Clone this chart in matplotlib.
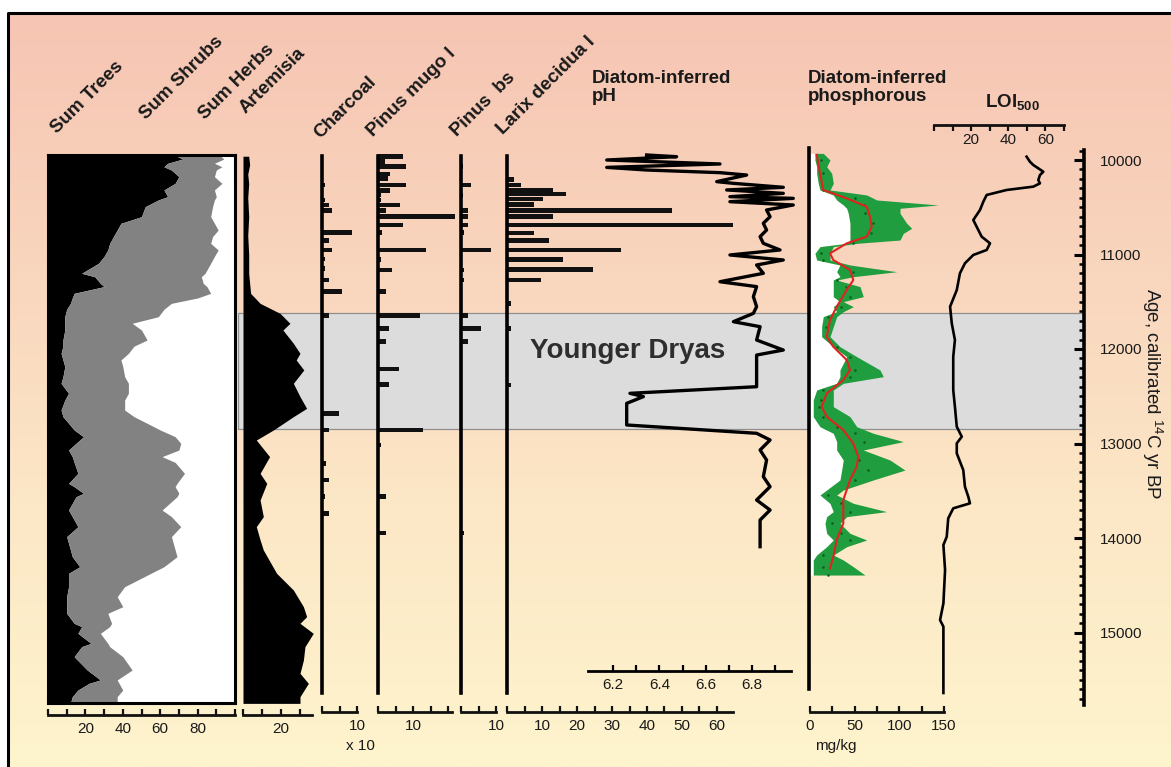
import numpy as np
import matplotlib
matplotlib.use("Agg")
import matplotlib.pyplot as plt
from matplotlib.colors import LinearSegmentedColormap

plt.rcParams['font.family'] = ['Liberation Sans', 'DejaVu Sans']
plt.rcParams['mathtext.fontset'] = 'custom'
plt.rcParams['mathtext.rm'] = 'Liberation Sans'
plt.rcParams['mathtext.it'] = 'Liberation Sans:italic'
plt.rcParams['mathtext.bf'] = 'Liberation Sans:bold'

# ---------------- data (age in cal yr BP) ----------------
sum_age = [9950, 9990, 10035, 10071, 10106, 10176, 10247, 10317, 10388, 10423, 10494, 10600, 10670, 10741, 10811,
           10882, 10952, 11020, 11093, 11199, 11235, 11305, 11340, 11411, 11460, 11517, 11580, 11658, 11728, 11799,
           11905, 11970, 12046, 12116, 12187, 12293, 12363, 12469, 12540, 12646, 12716, 12786, 12857, 12928, 12998,
           13069, 13139, 13200, 13316, 13422, 13457, 13527, 13563, 13704, 13774, 13880, 13986, 14127, 14198, 14304,
           14374, 14515, 14621, 14727, 14797, 14903, 14938, 15009, 15115, 15150, 15256, 15397, 15502, 15538, 15609,
           15679, 15750]
sum_trees = [68, 72, 64, 62, 66, 70, 68, 62, 64, 59, 52, 50, 39, 37, 35, 33, 32, 30, 27, 18, 25, 28, 30, 14, 13,
             12, 10, 9, 9, 9, 8, 8, 7, 8, 9, 8, 7, 11, 9, 7, 8, 11, 14, 19, 15, 11, 13, 14, 16, 11, 14, 19, 15, 11,
             13, 16, 10, 12, 13, 17, 11, 11, 10, 10, 10, 14, 18, 16, 23, 18, 14, 21, 28, 22, 16, 13, 12]
sum_trees_shrubs = [92, 94, 89, 93, 90, 89, 93, 89, 90, 89, 88, 87, 89, 91, 88, 87, 91, 89, 87, 84, 82, 83, 85, 87,
                    80, 66, 62, 59, 45, 50, 53, 46, 43, 39, 40, 41, 43, 43, 41, 41, 46, 53, 60, 68, 71, 70, 61, 68,
                    73, 69, 68, 70, 69, 61, 66, 71, 66, 68, 69, 62, 55, 41, 37, 40, 32, 34, 33, 28, 32, 33, 40, 45,
                    37, 38, 40, 37, 37]

art_age = [9960, 10050, 10150, 10250, 10400, 10600, 10800, 11000, 11200, 11305, 11411, 11517, 11623, 11728, 11799,
           11940, 12046, 12116, 12222, 12363, 12504, 12628, 12716, 12857, 12963, 13139, 13316, 13422, 13598, 13774,
           13880, 14021, 14127, 14374, 14550, 14727, 14832, 14903, 15009, 15150, 15291, 15432, 15538, 15679, 15750]
art_val = [3, 3.5, 2.5, 3, 2.5, 3, 2.5, 3, 3, 3.5, 4, 9, 19.5, 24.7, 21, 26.5, 30, 28, 32, 26.5, 30, 33.5, 26.5,
           16, 7, 14, 9, 12.5, 9, 10.7, 7, 9, 10.7, 17.7, 26.5, 31.8, 33.5, 30, 37, 32.6, 31.8, 30, 34.4, 30, 30]

char_age = [10265, 10423, 10476, 10536, 10765, 10854, 10952, 11048, 11146, 11270, 11393, 11647, 12681, 12857,
            13210, 13386, 13563, 13740]
char_val = [0.9, 0.9, 2, 2.9, 8.6, 2, 2.9, 0.9, 0.9, 2, 5.7, 2, 4.9, 2, 1.1, 2, 0.9, 2]

pmugo_age = [9965, 10018, 10071, 10148, 10194, 10265, 10325, 10370, 10423, 10476, 10536, 10600, 10688, 10765,
             10952, 11051, 11164, 11393, 11647, 11781, 11923, 12212, 12374, 12857, 13016, 13563, 13947]
pmugo_val = [7.1, 2, 8, 3.4, 2.9, 8, 3.4, 0.9, 0.9, 6.3, 2.3, 22, 7.1, 1.1, 13.7, 0.9, 4, 2.3, 12, 3.1, 2.3, 6,
             3.1, 12.9, 0.9, 2.3, 2.3]

pbs_age = [10071, 10265, 10370, 10536, 10600, 10688, 10765, 10952, 11164, 11270, 11647, 11781, 11923, 13947]
pbs_val = [0.6, 2.9, 0.6, 2, 2, 2, 0.9, 8.6, 0.9, 0.9, 2, 5.7, 2, 0.9]

larix_age = [10204, 10265, 10317, 10360, 10413, 10469, 10533, 10600, 10688, 10772, 10853, 10953, 11052, 11157,
             11270, 11517, 11781, 12381]
larix_val = [2, 4, 13.1, 16.9, 10.3, 7.7, 47.1, 13.1, 64.6, 7.7, 12, 32.6, 16, 24.6, 9.7, 1.1, 1.1, 1.1]

ph_age = [9947, 9965, 10000, 10042, 10078, 10106, 10134, 10159, 10229, 10247, 10289, 10317, 10353, 10388, 10406,
          10441, 10476, 10529, 10600, 10670, 10741, 10811, 10882, 10952, 11005, 11058, 11111, 11199, 11288, 11340,
          11446, 11552, 11623, 11711, 11764, 11905, 12011, 12064, 12187, 12399, 12469, 12504, 12575, 12804, 12892,
          12963, 13069, 13175, 13351, 13457, 13598, 13704, 13810, 13916, 14092]
ph_val = [6.345, 6.474, 6.173, 6.661, 6.173, 6.345, 6.661, 6.776, 6.647, 6.719, 6.934, 6.69, 6.934, 6.704, 6.977,
          6.704, 6.977, 6.862, 6.877, 6.848, 6.862, 6.834, 6.848, 6.92, 6.704, 6.934, 6.819, 6.848, 6.661, 6.819,
          6.805, 6.819, 6.805, 6.719, 6.834, 6.819, 6.934, 6.819, 6.819, 6.819, 6.273, 6.331, 6.259, 6.259, 6.819,
          6.877, 6.834, 6.862, 6.848, 6.877, 6.819, 6.877, 6.834, 6.834, 6.834]

p_age = [9930, 10000, 10071, 10141, 10247, 10317, 10370, 10423, 10476, 10511, 10564, 10670, 10723, 10776, 10847,
         10882, 10917, 10988, 11058, 11111, 11182, 11235, 11270, 11340, 11446, 11499, 11552, 11605, 11658, 11764,
         11870, 11976, 12081, 12222, 12293, 12363, 12434, 12540, 12610, 12716, 12822, 12892, 12980, 13069, 13175,
         13281, 13386, 13492, 13545, 13633, 13721, 13774, 13845, 13951, 14021, 14092, 14180, 14233, 14304, 14392]
p_min = [5.6, 5.6, 7.5, 7.5, 9.3, 11.2, 26.1, 29.9, 37.3, 41.1, 42.9, 44.8, 44.8, 44.8, 44.8, 41.1, 11.2, 5.6, 7.5,
         33.6, 29.9, 33.6, 26.1, 26.1, 26.1, 33.6, 26.1, 29.9, 14.9, 13.1, 13.1, 26.1, 41.1, 33.6, 33.6, 29.9, 7.5,
         3.7, 3.7, 3.7, 11.2, 26.1, 29.9, 29.9, 37.3, 35.5, 33.6, 18.7, 11.2, 22.4, 26.1, 18.7, 16.8, 18.7, 26.1,
         18.7, 7.5, 3.7, 3.7, 3.7]
p_max = [14.9, 22.4, 18.7, 24.3, 26.1, 22.4, 63.5, 74.7, 143.7, 100.8, 100.8, 108.3, 113.9, 104.5, 100.8, 52.3,
         26.1, 22.4, 22.4, 44.8, 97.1, 48.5, 29.9, 56, 59.7, 37.3, 48.5, 37.3, 29.9, 26.1, 22.4, 33.6, 52.3, 78.4,
         82.1, 37.3, 26.1, 26.1, 26.1, 44.8, 52.3, 70.9, 104.5, 59.7, 89.6, 106.4, 70.9, 37.3, 29.9, 48.5, 85.9,
         41.1, 33.6, 44.8, 63.5, 41.1, 26.1, 37.3, 48.5, 61.6]
p_dot_age = [10000, 10141, 10317, 10406, 10476, 10564, 10670, 10776, 10882, 10988, 11058, 11182, 11270, 11340,
             11446, 11552, 11658, 11764, 11976, 12081, 12222, 12293, 12434, 12540, 12610, 12716, 12822, 12892,
             12980, 13175, 13281, 13386, 13545, 13633, 13721, 13845, 13951, 14021, 14180, 14304, 14392]
p_dot_val = [12, 15, 15, 50, 60, 62, 70, 68, 48, 12, 15, 48, 30, 40, 45, 35, 20, 18, 30, 45, 50, 45, 15, 12, 10,
             15, 30, 50, 60, 55, 65, 50, 20, 35, 45, 25, 35, 45, 15, 15, 20]
p_smooth_age = [9945, 10141, 10317, 10406, 10494, 10600, 10706, 10811, 10882, 10988, 11058, 11164, 11270, 11376,
                11552, 11693, 11870, 11976, 12116, 12222, 12328, 12469, 12610, 12716, 12857, 13000, 13139, 13245,
                13386, 13598, 13845, 14021, 14198, 14322]
p_smooth = [7.5, 11.2, 14.9, 41.1, 63.5, 67.2, 69.1, 63.5, 41.1, 22.4, 26.1, 44.8, 48.5, 41.1, 29.9, 22.4, 18.7,
            26.1, 41.1, 44.8, 37.3, 18.7, 13.1, 18.7, 37.3, 48.5, 54.1, 52.3, 44.8, 37.3, 37.3, 29.9, 26.1, 22.4]

loi_age = [9965, 10018, 10053, 10088, 10124, 10159, 10212, 10247, 10282, 10317, 10370, 10441, 10529, 10635, 10706,
           10811, 10882, 10952, 11005, 11093, 11199, 11376, 11552, 11728, 11905, 12081, 12257, 12434, 12610, 12822,
           12928, 12998, 13104, 13281, 13457, 13563, 13633, 13686, 13792, 13986, 14074, 14339, 14692, 14868, 14938,
           15221, 15573, 15640]
loi_val = [50.4, 52.2, 54, 56.7, 59.4, 57.6, 56.7, 57.6, 54, 39.7, 28.9, 27.1, 25.3, 21.7, 23.5, 26.2, 30.7, 28.9,
           21.7, 17.2, 14.5, 12.8, 9.2, 10.1, 11.8, 10.9, 10.9, 10.9, 11.8, 12.8, 15.5, 12.8, 12.8, 16.3, 17.2, 19,
           19.9, 10.9, 8.2, 7.4, 5.6, 6.5, 5.6, 3.8, 5.6, 5.6, 5.6, 5.6]

yd_start, yd_end = 11620, 12845
age_ticks = [10000, 11000, 12000, 13000, 14000, 15000]

# ---------------- layout helpers (pixel based) ----------------
W, H, DPI = 1171, 767, 100
fig = plt.figure(figsize=(W / DPI, H / DPI), dpi=DPI)
fig.patch.set_facecolor('white')

Y_REF, AGE_REF, PX_PER_KYR = 160.0, 10000.0, 94.5
AGE_X = 1084


def age_at(ypx):
    return AGE_REF + (ypx - Y_REF) / PX_PER_KYR * 1000.0


def px_axes(x0, x1, y0, y1, z=1):
    ax = fig.add_axes([x0 / W, 1 - y1 / H, (x1 - x0) / W, (y1 - y0) / H])
    ax.set_zorder(z)
    return ax


def panel(x0, x1, y0, y1, zero, k, z=2):
    ax = px_axes(x0, x1, y0, y1, z)
    ax.set_xlim((x0 - zero) / k, (x1 - zero) / k)
    ax.set_ylim(age_at(y1), age_at(y0))
    ax.patch.set_visible(False)
    for s in ax.spines.values():
        s.set_visible(False)
    ax.set_xticks([])
    ax.set_yticks([])
    return ax


def scale_bar(x0, x1, y, zero, k, ticks, labels, direction='in', lw=2.0, tlen=4.0, fs=11, pad=5.0):
    ax = px_axes(x0, x1, y - 10, y, 3)
    ax.set_xlim((x0 - zero) / k, (x1 - zero) / k)
    ax.set_ylim(0, 1)
    ax.patch.set_visible(False)
    for s in ('top', 'left', 'right'):
        ax.spines[s].set_visible(False)
    ax.spines['bottom'].set_linewidth(lw)
    ax.spines['bottom'].set_color('#111111')
    ax.set_yticks([])
    ax.set_xticks(ticks)
    ax.set_xticklabels(labels)
    ax.tick_params(axis='x', direction=direction, length=tlen, width=1.6, labelsize=fs, pad=pad,
                   color='#111111', labelcolor='#1a1a1a')
    return ax


def T(x, y, s, **kw):
    return fig.text(x / W, 1 - y / H, s, **kw)


# ---------------- background gradient + frame ----------------
ax_bg = fig.add_axes([0, 0, 1, 1])
ax_bg.set_zorder(0)
ax_bg.set_xlim(0, W)
ax_bg.set_ylim(H, 0)
ax_bg.axis('off')
grad_cmap = LinearSegmentedColormap.from_list('bg', [(0.0, '#f6c5b3'), (0.35, '#f9d6be'),
                                                      (0.65, '#fce7c6'), (1.0, '#fef4cd')])
ax_bg.imshow(np.linspace(0, 1, 256).reshape(-1, 1), extent=(8, W, H, 13), aspect='auto', cmap=grad_cmap)
ax_bg.plot([8, 8, W], [H, 13, 13], color='black', lw=2.2, solid_capstyle='butt')

# ---------------- Younger Dryas band ----------------
ax_band = panel(238, AGE_X, 140, 710, 238, 1.0, z=1)
ax_band.axhspan(yd_start, yd_end, facecolor='#dcdcdc', edgecolor='#8f8f8f', lw=0.9)
T(628, 351, 'Younger Dryas', fontsize=20, fontweight='bold', color='#2e2e2e', ha='center', va='center', zorder=5)

# ---------------- Sum diagram ----------------
K_SUM = 1.87
ax_sum = panel(48, 235, 155, 703, 48, K_SUM)
ax_sum.patch.set_visible(True)
ax_sum.patch.set_facecolor('white')
ax_sum.fill_betweenx(sum_age, 0, sum_trees, color='black', lw=0)
ax_sum.fill_betweenx(sum_age, sum_trees, sum_trees_shrubs, color='#828282', lw=0)
for s in ax_sum.spines.values():
    s.set_visible(True)
    s.set_linewidth(2.2)
scale_bar(48, 235, 715, 48, K_SUM, list(range(0, 101, 10)),
          ['' if v not in (20, 40, 60, 80) else str(v) for v in range(0, 101, 10)])

# ---------------- Artemisia ----------------
K_ART = 1.9
ax_art = panel(243, 320, 155, 703, 243, K_ART)
ax_art.fill_betweenx(art_age, 0, art_val, color='black', lw=0)
scale_bar(243, 312, 715, 243, K_ART, [0, 10, 20, 30], ['', '', '20', ''])

# ---------------- bar taxa ----------------
K_POL = 3.5
BAR_H = 48


def bar_panel(x0, x1, ages, vals):
    ax = panel(x0, x1, 140, 710, x0, K_POL)
    ax.barh(ages, vals, height=BAR_H, color='#111111', lw=0)
    ax.spines['left'].set_visible(True)
    ax.spines['left'].set_linewidth(2.6)
    ax.spines['left'].set_bounds(9960, 15640)
    return ax


bar_panel(322, 372, char_age, char_val)
scale_bar(322, 357, 712, 322, K_POL, [0, 5, 10], ['', '', '10'])
T(360, 746, 'x 10', fontsize=11, ha='center', va='center', color='#1a1a1a')

bar_panel(378, 460, pmugo_age, pmugo_val)
scale_bar(378, 452, 712, 378, K_POL, [0, 5, 10, 15, 20], ['', '', '10', '', ''])

bar_panel(461, 505, pbs_age, pbs_val)
scale_bar(461, 496, 712, 461, K_POL, [0, 5, 10], ['', '', '10'])

bar_panel(507, 760, larix_age, larix_val)
scale_bar(507, 733, 712, 507, K_POL, list(range(0, 61, 5)),
          [str(v) if v % 10 == 0 and v > 0 else '' for v in range(0, 61, 5)])

# ---------------- Diatom-inferred pH ----------------
PH_ZERO_X, PH_REF, K_PH = 613, 6.2, 232.0
ax_ph = px_axes(560, 810, 140, 710, 2)
ax_ph.set_xlim(PH_REF + (560 - PH_ZERO_X) / K_PH, PH_REF + (810 - PH_ZERO_X) / K_PH)
ax_ph.set_ylim(age_at(710), age_at(140))
ax_ph.axis('off')
ax_ph.plot(ph_val, ph_age, color='black', lw=2.4, solid_joinstyle='round')
ph_ticks = [6.2, 6.3, 6.4, 6.5, 6.6, 6.7, 6.8, 6.9]
axs = px_axes(588, 791, 661, 671, 3)
axs.set_xlim(PH_REF + (588 - PH_ZERO_X) / K_PH, PH_REF + (791 - PH_ZERO_X) / K_PH)
axs.patch.set_visible(False)
for s in ('top', 'left', 'right'):
    axs.spines[s].set_visible(False)
axs.spines['bottom'].set_linewidth(2.0)
axs.set_yticks([])
axs.set_xticks(ph_ticks)
axs.set_xticklabels(['6.2', '', '6.4', '', '6.6', '', '6.8', ''])
axs.tick_params(axis='x', direction='in', length=4, width=1.6, labelsize=11, pad=5, labelcolor='#1a1a1a')

# ---------------- Diatom-inferred phosphorous ----------------
K_P = 0.893
ax_p = panel(809, 965, 140, 710, 810, K_P)
ax_p.fill_betweenx(p_age, 0, p_min, color='white', lw=0)
ax_p.fill_betweenx(p_age, p_min, p_max, color='#1f9d3f', lw=0)
ax_p.plot(p_dot_val, p_dot_age, 'o', ms=1.8, color='#0b5a20', mew=0)
ax_p.plot(p_smooth, p_smooth_age, color='#e0231e', lw=1.5)
ax_p.spines['left'].set_visible(True)
ax_p.spines['left'].set_linewidth(2.6)
ax_p.spines['left'].set_bounds(9870, 15600)
scale_bar(810, 944, 712, 810, K_P, [0, 25, 50, 75, 100, 125, 150], ['0', '', '50', '', '100', '', '150'])
T(836, 746, 'mg/kg', fontsize=11, ha='center', va='center', color='#1a1a1a')

# ---------------- LOI ----------------
K_LOI = 1.857
ax_loi = panel(933, 1070, 140, 710, 933, K_LOI)
ax_loi.plot(loi_val, loi_age, color='black', lw=1.9)
scale_bar(934, 1064, 125, 934, K_LOI, list(range(0, 71, 10)),
          ['', '', '20', '', '40', '', '60', ''], direction='out', pad=2)

# ---------------- Age axis ----------------
ax_age = px_axes(AGE_X, AGE_X + 1, 140, 710, 3)
ax_age.set_ylim(age_at(710), age_at(140))
ax_age.patch.set_visible(False)
for s in ('top', 'bottom', 'right'):
    ax_age.spines[s].set_visible(False)
ax_age.spines['left'].set_linewidth(2.6)
ax_age.spines['left'].set_bounds(age_at(150), age_at(705))
ax_age.set_xticks([])
ax_age.set_yticks(age_ticks)
ax_age.set_yticklabels([str(v) for v in age_ticks])
ax_age.set_yticks(np.arange(9900, 15800, 100), minor=True)
ax_age.tick_params(axis='y', which='major', direction='out', length=7, width=2.2, left=True, right=False,
                   labelleft=False, labelright=True, labelsize=11, pad=4, labelcolor='#1a1a1a')
ax_age.tick_params(axis='y', which='minor', direction='out', length=3.5, width=1.8, left=True, right=False)
T(1152, 394, r'Age, calibrated $^{14}$C yr BP', fontsize=13.5, rotation=270, ha='center', va='center',
  color='#1a1a1a')

# ---------------- titles ----------------
title_kw = dict(rotation=45, rotation_mode='anchor', ha='left', va='baseline', fontsize=13.5,
                fontweight='bold', color='#1a1a1a')
T(57, 134, 'Sum Trees', **title_kw)
T(146, 120, 'Sum Shrubs', **title_kw)
T(205, 120, 'Sum Herbs', **title_kw)
T(246, 114, 'Artemisia', **title_kw)
T(320, 139, 'Charcoal', **title_kw)
T(373, 137, 'Pinus mugo l', **title_kw)
T(457, 137, 'Pinus  bs', **title_kw)
T(503, 135, 'Larix decidua l', **title_kw)

T(592, 70, 'Diatom-inferred\npH', fontsize=13.5, fontweight='bold', ha='left', va='top', linespacing=1.05,
  color='#1a1a1a')
T(808, 70, 'Diatom-inferred\nphosphorous', fontsize=13.5, fontweight='bold', ha='left', va='top',
  linespacing=1.05, color='#1a1a1a')
T(985, 107, r'$\mathbf{LOI}_{\mathbf{500}}$', fontsize=13.5, ha='left', va='baseline', color='#1a1a1a')

fig.savefig('out.png', dpi=DPI)
